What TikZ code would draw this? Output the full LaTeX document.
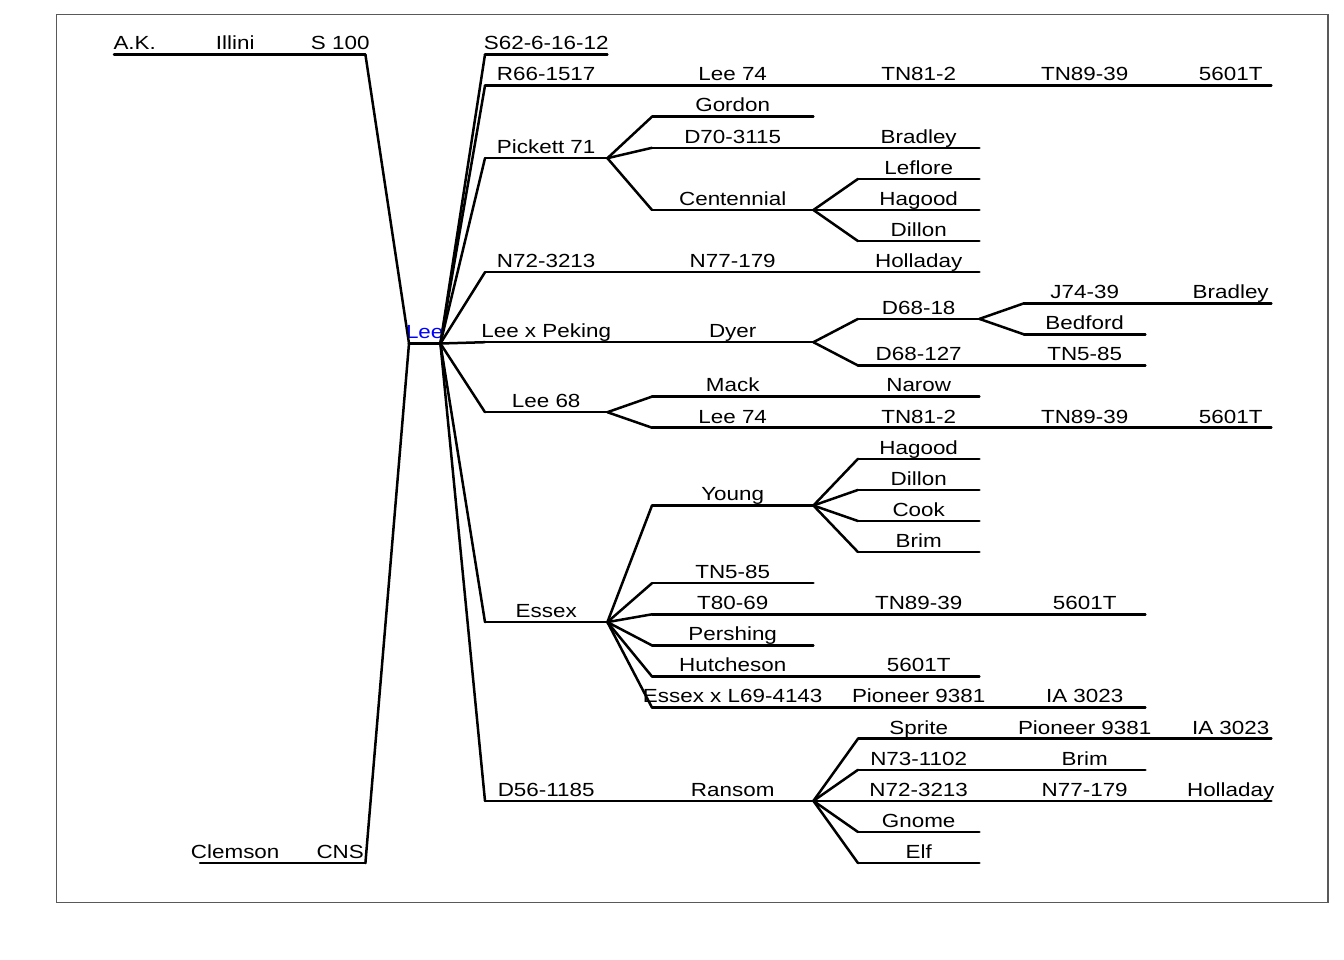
\documentclass[tikz,border=0pt]{standalone}
\usepackage{fontspec}
\setmainfont{Liberation Sans}[FakeStretch=1.18]
\begin{document}
\begin{tikzpicture}[x=1pt,y=-1pt,
  seg/.style={anchor=south west, inner xsep=0pt, inner ysep=4.5pt, text depth=0pt,
    font=\fontsize{19}{22}\selectfont,
    execute at begin node={\hbox to #1pt\bgroup\hss},
    execute at end node={\hss\egroup}},
  tl/.style={line width=2.5pt, line cap=round, line join=round},
  frame/.style={draw=black!65, line width=1.2pt}]
\useasboundingbox (0,0) rectangle (1344,960);
\draw[frame] (56.5,14.8) rectangle (1328,902.5);
% ancestors
\node[seg=41] (ak) at (114,54.5) {A.K.};
\node[seg=70] (illini) at (200,54.5) {Illini};
\node[seg=50] (s100) at (315,54.5) {S 100};
\node[seg=70] (clemson) at (200,863.1) {Clemson};
\node[seg=50] (cns) at (315,863.1) {CNS};
\node[seg=31, text=blue] (lee) at (409,343.5) {Lee};
% level 1
\node[seg=122] (s62) at (485,54.5) {S62-6-16-12};
\node[seg=122] (r66) at (485,85.6) {R66-1517};
\node[seg=122] (pick) at (485,158.2) {Pickett 71};
\node[seg=122] (n72a) at (485,272.2) {N72-3213};
\node[seg=122] (lxp) at (485,342.2) {Lee x Peking};
\node[seg=122] (lee68) at (485,412.2) {Lee 68};
\node[seg=122] (essex) at (485,622.1) {Essex};
\node[seg=122] (d56) at (485,800.9) {D56-1185};
% level 2
\node[seg=161] (lee74a) at (652,85.6) {Lee 74};
\node[seg=161] (gordon) at (652,116.7) {Gordon};
\node[seg=161] (d70) at (652,147.8) {D70-3115};
\node[seg=161] (cent) at (652,210.0) {Centennial};
\node[seg=161] (n77a) at (652,272.2) {N77-179};
\node[seg=161] (dyer) at (652,342.2) {Dyer};
\node[seg=161] (mack) at (652,396.6) {Mack};
\node[seg=161] (lee74b) at (652,427.7) {Lee 74};
\node[seg=161] (young) at (652,505.5) {Young};
\node[seg=161] (tn585a) at (652,583.2) {TN5-85};
\node[seg=161] (t80) at (652,614.3) {T80-69};
\node[seg=161] (persh) at (652,645.4) {Pershing};
\node[seg=161] (hutch) at (652,676.5) {Hutcheson};
\node[seg=161] (exl) at (652,707.6) {Essex x L69-4143};
\node[seg=161] (ransom) at (652,800.9) {Ransom};
% level 3
\node[seg=121] (tn812a) at (858,85.6) {TN81-2};
\node[seg=121] (bradleya) at (858,147.8) {Bradley};
\node[seg=121] (leflore) at (858,178.9) {Leflore};
\node[seg=121] (hagooda) at (858,210.0) {Hagood};
\node[seg=121] (dillona) at (858,241.1) {Dillon};
\node[seg=121] (hollada) at (858,272.2) {Holladay};
\node[seg=121] (d6818) at (858,318.9) {D68-18};
\node[seg=121] (d68127) at (858,365.5) {D68-127};
\node[seg=121] (narow) at (858,396.6) {Narow};
\node[seg=121] (tn812b) at (858,427.7) {TN81-2};
\node[seg=121] (hagoodb) at (858,458.8) {Hagood};
\node[seg=121] (dillonb) at (858,489.9) {Dillon};
\node[seg=121] (cook) at (858,521.0) {Cook};
\node[seg=121] (brima) at (858,552.1) {Brim};
\node[seg=121] (tn8939c) at (858,614.3) {TN89-39};
\node[seg=121] (sixc) at (858,676.5) {5601T};
\node[seg=121] (pion1) at (858,707.6) {Pioneer 9381};
\node[seg=121] (sprite) at (858,738.7) {Sprite};
\node[seg=121] (n731102) at (858,769.8) {N73-1102};
\node[seg=121] (n72b) at (858,800.9) {N72-3213};
\node[seg=121] (gnome) at (858,832.0) {Gnome};
\node[seg=121] (elf) at (858,863.1) {Elf};
% level 4
\node[seg=121] (tn8939a) at (1024,85.6) {TN89-39};
\node[seg=121] (j7439) at (1024,303.3) {J74-39};
\node[seg=121] (bedford) at (1024,334.4) {Bedford};
\node[seg=121] (tn585b) at (1024,365.5) {TN5-85};
\node[seg=121] (tn8939b) at (1024,427.7) {TN89-39};
\node[seg=121] (sixd) at (1024,614.3) {5601T};
\node[seg=121] (ia1) at (1024,707.6) {IA 3023};
\node[seg=121] (pion2) at (1024,738.7) {Pioneer 9381};
\node[seg=121] (brimb) at (1024,769.8) {Brim};
\node[seg=121] (n77b) at (1024,800.9) {N77-179};
% level 5
\node[seg=81] (sixa) at (1190,85.6) {5601T};
\node[seg=81] (bradleyb) at (1190,303.3) {Bradley};
\node[seg=81] (sixb) at (1190,427.7) {5601T};
\node[seg=81] (ia2) at (1190,738.7) {IA 3023};
\node[seg=81] (hollb) at (1190,800.9) {Holladay};
% underlines
\foreach \n in {ak,illini,s100,clemson,cns,lee,
  s62,r66,pick,n72a,lxp,lee68,essex,d56,
  lee74a,gordon,d70,cent,n77a,dyer,mack,lee74b,young,tn585a,t80,persh,hutch,exl,ransom,
  tn812a,bradleya,leflore,hagooda,dillona,hollada,d6818,d68127,narow,tn812b,hagoodb,dillonb,cook,brima,tn8939c,sixc,pion1,sprite,n731102,n72b,gnome,elf,
  tn8939a,j7439,bedford,tn585b,tn8939b,sixd,ia1,pion2,brimb,n77b,
  sixa,bradleyb,sixb,ia2,hollb}
  \draw[tl] (\n.south west) -- (\n.south east);
% connectors
\foreach \p/\c in {ak/illini,illini/s100,clemson/cns,s100/lee,cns/lee,
  lee/s62,lee/r66,lee/pick,lee/n72a,lee/lxp,lee/lee68,lee/essex,lee/d56,
  r66/lee74a,lee74a/tn812a,tn812a/tn8939a,tn8939a/sixa,
  pick/gordon,pick/d70,pick/cent,d70/bradleya,cent/leflore,cent/hagooda,cent/dillona,
  n72a/n77a,n77a/hollada,
  lxp/dyer,dyer/d6818,dyer/d68127,d6818/j7439,d6818/bedford,j7439/bradleyb,d68127/tn585b,
  lee68/mack,lee68/lee74b,mack/narow,lee74b/tn812b,tn812b/tn8939b,tn8939b/sixb,
  essex/young,essex/tn585a,essex/t80,essex/persh,essex/hutch,essex/exl,
  young/hagoodb,young/dillonb,young/cook,young/brima,
  t80/tn8939c,tn8939c/sixd,hutch/sixc,exl/pion1,pion1/ia1,
  d56/ransom,ransom/sprite,ransom/n731102,ransom/n72b,ransom/gnome,ransom/elf,
  sprite/pion2,pion2/ia2,n731102/brimb,n72b/n77b,n77b/hollb}
  \draw[tl] (\p.south east) -- (\c.south west);
\end{tikzpicture}
\end{document}
